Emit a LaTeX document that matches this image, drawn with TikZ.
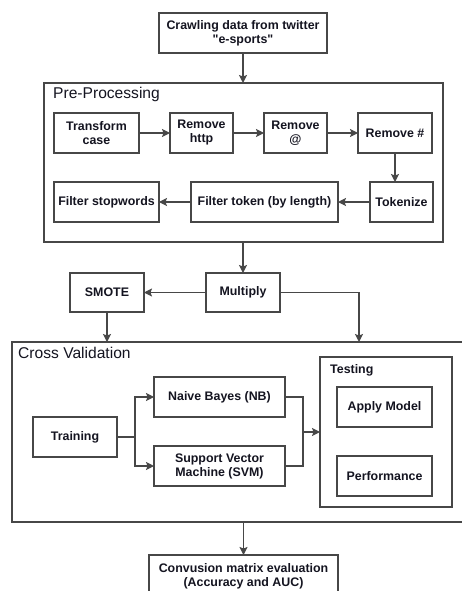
\documentclass[tikz,border=0pt]{standalone}
\usepackage{fontspec}
\setmainfont{Liberation Sans}
\usetikzlibrary{arrows.meta}
\definecolor{linec}{HTML}{474747}
\definecolor{txtc}{HTML}{141420}
\begin{document}
\begin{tikzpicture}[x=1pt,y=-1pt,
  box/.style={draw=linec, line width=1.2pt, fill=white, inner sep=0pt, outer sep=0pt,
    align=center, text=txtc, font=\bfseries\fontsize{12.4}{14}\selectfont},
  container/.style={draw=linec, line width=1.2pt, inner sep=0pt, outer sep=0pt},
  ctitle/.style={anchor=base west, inner sep=0pt, text=txtc, font=\fontsize{15.6}{17}\selectfont},
  stitle/.style={anchor=base west, inner sep=0pt, text=txtc, font=\bfseries\fontsize{12.4}{14}\selectfont},
  arr/.style={draw=linec, line width=1.2pt, -{Stealth[length=8pt,width=8pt,inset=1.5pt]}}]
\useasboundingbox (0,0) rectangle (462,591);
\clip (0,0) rectangle (462,591);
\fill[white] (0,0) rectangle (462,591);
% top
\node[box, minimum width=168pt, minimum height=40pt] (crawl) at (243,33) {Crawling data from twitter\\\textquotedbl e-sports\textquotedbl};
% pre-processing container
\node[container, minimum width=399pt, minimum height=159pt] (pre) at (243.5,162.5) {};
\node[ctitle] (pretitle) at (53,99) {Pre-Processing};
\node[box, minimum width=85pt, minimum height=40pt] (trans) at (96.5,133) {Transform\\case};
\node[box, minimum width=63pt, minimum height=40pt] (http) at (201.5,133) {Remove\\http};
\node[box, minimum width=63pt, minimum height=40pt] (at) at (295.5,133) {Remove\\@};
\node[box, minimum width=74pt, minimum height=40pt] (hash) at (395,133) {Remove \#};
\node[box, minimum width=63pt, minimum height=40pt] (tok) at (401.5,202) {Tokenize};
\node[box, minimum width=147pt, minimum height=40pt] (ftok) at (264.5,202) {Filter token (by length)};
\node[box, minimum width=105pt, minimum height=40pt] (fstop) at (106.5,202) {Filter stopwords};
% middle
\node[box, minimum width=74pt, minimum height=39pt] (smote) at (107,292.5) {SMOTE};
\node[box, minimum width=74pt, minimum height=39pt] (mult) at (243,292.5) {Multiply};
% cross validation
\node[container, minimum width=453pt, minimum height=180pt] (cv) at (238.5,432) {};
\node[ctitle] (cvtitle) at (18,358) {Cross Validation};
\node[container, minimum width=132pt, minimum height=150pt] (test) at (386,432) {};
\node[stitle] (testtitle) at (330,373) {Testing};
\node[box, minimum width=95pt, minimum height=40pt] (apply) at (384.5,407) {Apply Model};
\node[box, minimum width=95pt, minimum height=40pt] (perf) at (384.5,476) {Performance};
\node[box, minimum width=84pt, minimum height=40pt] (train) at (75,437) {Training};
\node[box, minimum width=131pt, minimum height=40pt] (nb) at (219.5,397) {Naive Bayes (NB)};
\node[box, minimum width=131pt, minimum height=40pt] (svm) at (219.5,466) {Support Vector\\Machine (SVM)};
% bottom
\node[box, minimum width=189pt, minimum height=42pt] (conf) at (243.5,576) {Convusion matrix evaluation\\(Accuracy and AUC)};
% connectors
\draw[arr] (crawl.south) -- (crawl.south |- pre.north);
\draw[arr] (trans.east) -- (http.west);
\draw[arr] (http.east) -- (at.west);
\draw[arr] (at.east) -- (hash.west);
\draw[arr] (hash.south) -- (hash.south |- tok.north);
\draw[arr] (tok.west) -- (ftok.east);
\draw[arr] (ftok.west) -- (fstop.east);
\draw[arr] (pre.south -| mult.north) -- (mult.north);
\draw[arr] (mult.west) -- (smote.east);
\coordinate (mr) at (359,292.5);
\draw[arr] (mult.east) -- (mr) -- (mr |- cv.north);
\draw[arr] (smote.south) -- (smote.south |- cv.north);
\coordinate (split) at (135,437);
\draw[line width=1.2pt, draw=linec] (train.east) -- (split);
\draw[arr] (split) |- (nb.west);
\draw[arr] (split) |- (svm.west);
\coordinate (join) at (303,432);
\draw[line width=1.2pt, draw=linec] (nb.east) -| (join);
\draw[line width=1.2pt, draw=linec] (svm.east) -| (join);
\draw[arr] (join) -- (test.west);
\draw[arr] (cv.south -| conf.north) -- (conf.north);
\end{tikzpicture}
\end{document}
